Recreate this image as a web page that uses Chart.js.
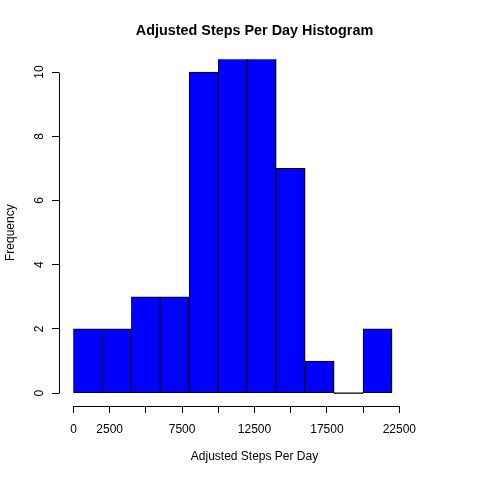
<!doctype html>
<html lang="en">
  <head>
    <meta charset="UTF-8" />
    <title>Adjusted Steps Per Day Histogram</title>
    <script src="https://cdn.jsdelivr.net/npm/chart.js"></script>
  </head>
  <body style="margin: 0; background-color: white">
    <canvas id="histChart" width="480" height="480"></canvas>

    <script>
      // histogram bins (2000 steps wide), plotted at their midpoints
      const binMids = [1000, 3000, 5000, 7000, 9000, 11000, 13000, 15000, 17000, 19000, 21000];
      // counts per bin; the two tallest run past the top of the y range
      const counts = [2, 2, 3, 3, 10, 18, 11, 7, 1, 0, 2];
      const xTicks = [0, 2500, 5000, 7500, 10000, 12500, 15000, 17500, 20000, 22500];
      const xLabelled = [0, 2500, 7500, 12500, 17500, 22500];
      const yTicks = [0, 2, 4, 6, 8, 10];

      Chart.defaults.font.family = "'Liberation Sans', Arial, sans-serif";
      Chart.defaults.font.size = 12;
      Chart.defaults.color = "#000";

      // R style axis lines: only from first tick to last tick
      const rAxes = {
        id: "rAxes",
        afterDraw(chart) {
          const { ctx, chartArea, scales } = chart;
          ctx.save();
          ctx.strokeStyle = "#000";
          ctx.lineWidth = 1;
          ctx.beginPath();
          const yb = Math.round(chartArea.bottom) + 0.5;
          ctx.moveTo(Math.round(scales.x.getPixelForValue(xTicks[0])) + 0.5, yb);
          ctx.lineTo(Math.round(scales.x.getPixelForValue(xTicks[xTicks.length - 1])) + 0.5, yb);
          const xl = Math.round(chartArea.left) + 0.5;
          ctx.moveTo(xl, Math.round(scales.y.getPixelForValue(yTicks[0])) + 0.5);
          ctx.lineTo(xl, Math.round(scales.y.getPixelForValue(yTicks[yTicks.length - 1])) + 0.5);
          ctx.stroke();
          ctx.restore();
        },
      };

      const ctx = document.getElementById("histChart").getContext("2d");
      new Chart(ctx, {
        type: "bar",
        data: {
          datasets: [
            {
              label: "Frequency",
              data: binMids.map((m, i) => ({ x: m, y: counts[i] })),
              // an empty bin shows only as a black line on the baseline
              backgroundColor: (c) => (c.raw && c.raw.y === 0 ? "#000" : "#0000ff"),
              borderColor: "#000",
              borderWidth: 1,
              borderSkipped: false,
              minBarLength: 1,
              barPercentage: 1,
              categoryPercentage: 1,
            },
          ],
        },
        options: {
          responsive: false,
          animation: false,
          layout: { padding: { left: 0, right: 30, top: 0, bottom: 0 } },
          plugins: {
            legend: { display: false },
            tooltip: { enabled: false },
            title: {
              display: true,
              fullSize: false,
              text: "Adjusted Steps Per Day Histogram",
              font: { size: 14.4, weight: "bold" },
              padding: { top: 22, bottom: 20 },
            },
          },
          scales: {
            x: {
              type: "linear",
              min: -1000,
              max: 26000,
              offset: false,
              afterFit: (s) => { s.height = 74; },
              afterBuildTicks: (s) => {
                s.ticks = xTicks.map((v) => ({ value: v }));
              },
              border: { display: false },
              grid: { offset: false, drawOnChartArea: false, drawTicks: true, tickLength: 7, color: "#000" },
              ticks: {
                maxRotation: 0,
                autoSkip: false,
                padding: 9,
                callback: (v) => (xLabelled.includes(v) ? String(v) : ""),
              },
              title: {
                display: true,
                text: "Adjusted Steps Per Day",
                padding: { top: 0, bottom: 16 },
              },
            },
            y: {
              min: -0.4,
              max: 10.4,
              afterFit: (s) => { s.width = 59; },
              afterBuildTicks: (s) => {
                s.ticks = yTicks.map((v) => ({ value: v }));
              },
              border: { display: false },
              grid: { drawOnChartArea: false, drawTicks: true, tickLength: 7, color: "#000" },
              ticks: {
                minRotation: 90,
                maxRotation: 90,
                crossAlign: "center",
                padding: 6,
              },
              title: {
                display: true,
                text: "Frequency",
                padding: { top: 3, bottom: 0 },
              },
            },
          },
        },
        plugins: [rAxes],
      });
    </script>
  </body>
</html>
